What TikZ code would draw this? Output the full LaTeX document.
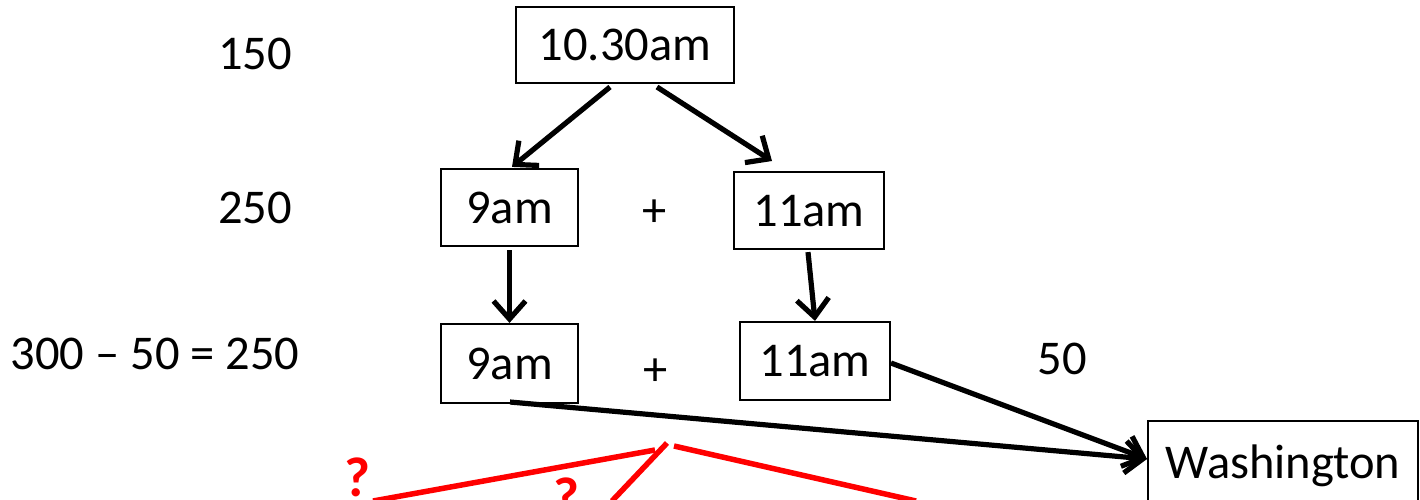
\documentclass[tikz,border=0pt]{standalone}
\usepackage{fontspec}
\setmainfont{Carlito}
\usetikzlibrary{arrows.meta}
\begin{document}
\begin{tikzpicture}[x=1pt,y=-1pt,
  every node/.style={font=\fontsize{48.5}{58}\selectfont, inner sep=0pt, text depth=0pt},
  box/.style={draw, line width=2.2pt, fill=white, minimum height=77pt},
  arr/.style={line width=5.2pt, -{Straight Barb[length=18pt,width=32pt,line width=5.2pt]}},
  redline/.style={draw=red, line width=5.5pt},
  qmark/.style={text=red, font=\fontsize{56}{64}\selectfont\bfseries}
]
\useasboundingbox (0,0) rectangle (1420,499);

% boxes
\node[box, minimum width=218pt, minimum height=76pt] (a) at (625,45) {10.30am};
\node[box, minimum width=137pt] (b) at (509.5,207.5) {9am};
\node[box, minimum width=150pt] (c) at (809,210.5) {11am};
\node[box, minimum width=137pt, minimum height=79pt] (d) at (509.5,363.5) {9am};
\node[box, minimum width=150pt, minimum height=78pt] (e) at (815,361) {11am};
\node[box, minimum width=270pt, minimum height=82pt] (w) at (1283,462) {Washington};

% labels
\node (l150) at (255,54) {150};
\node (l250) at (255,208) {250};
\node (l300) at (155,354) {300 -- 50 = 250};
\node (p1) at (655,213) {+};
\node (p2) at (656,372) {+};
\node (l50) at (1062,359) {50};

% arrows
\coordinate (a1) at (610,87);
\coordinate (a2) at (657,87);
\draw[arr] (a1) -- ([xshift=2.5pt,yshift=1pt]b.north);
\draw[arr] (a2) -- (772,161);
\draw[arr] ([yshift=-3pt]b.south) -- (d.north);
\draw[arr] ([xshift=-1pt,yshift=-2pt]c.south) -- (e.north);
\coordinate (e1) at (891,363);
\coordinate (d1) at (510,402);
\coordinate (wtip) at (1147,459);
\draw[arr] (d1) -- (wtip);
\draw[arr] (e1) -- (wtip);

% red lines
\coordinate (r1) at (373,501);
\coordinate (r2) at (655,450);
\coordinate (r3) at (612,501);
\coordinate (r4) at (667,443);
\coordinate (r5) at (674,446);
\coordinate (r6) at (916,501);
\draw[redline] (r1) -- (r2);
\draw[redline] (r3) -- (r4);
\draw[redline] (r5) -- (r6);
\node[qmark] (q1) at (357,477) {?};
\node[qmark] (q2) at (566,497) {?};
\end{tikzpicture}
\end{document}
